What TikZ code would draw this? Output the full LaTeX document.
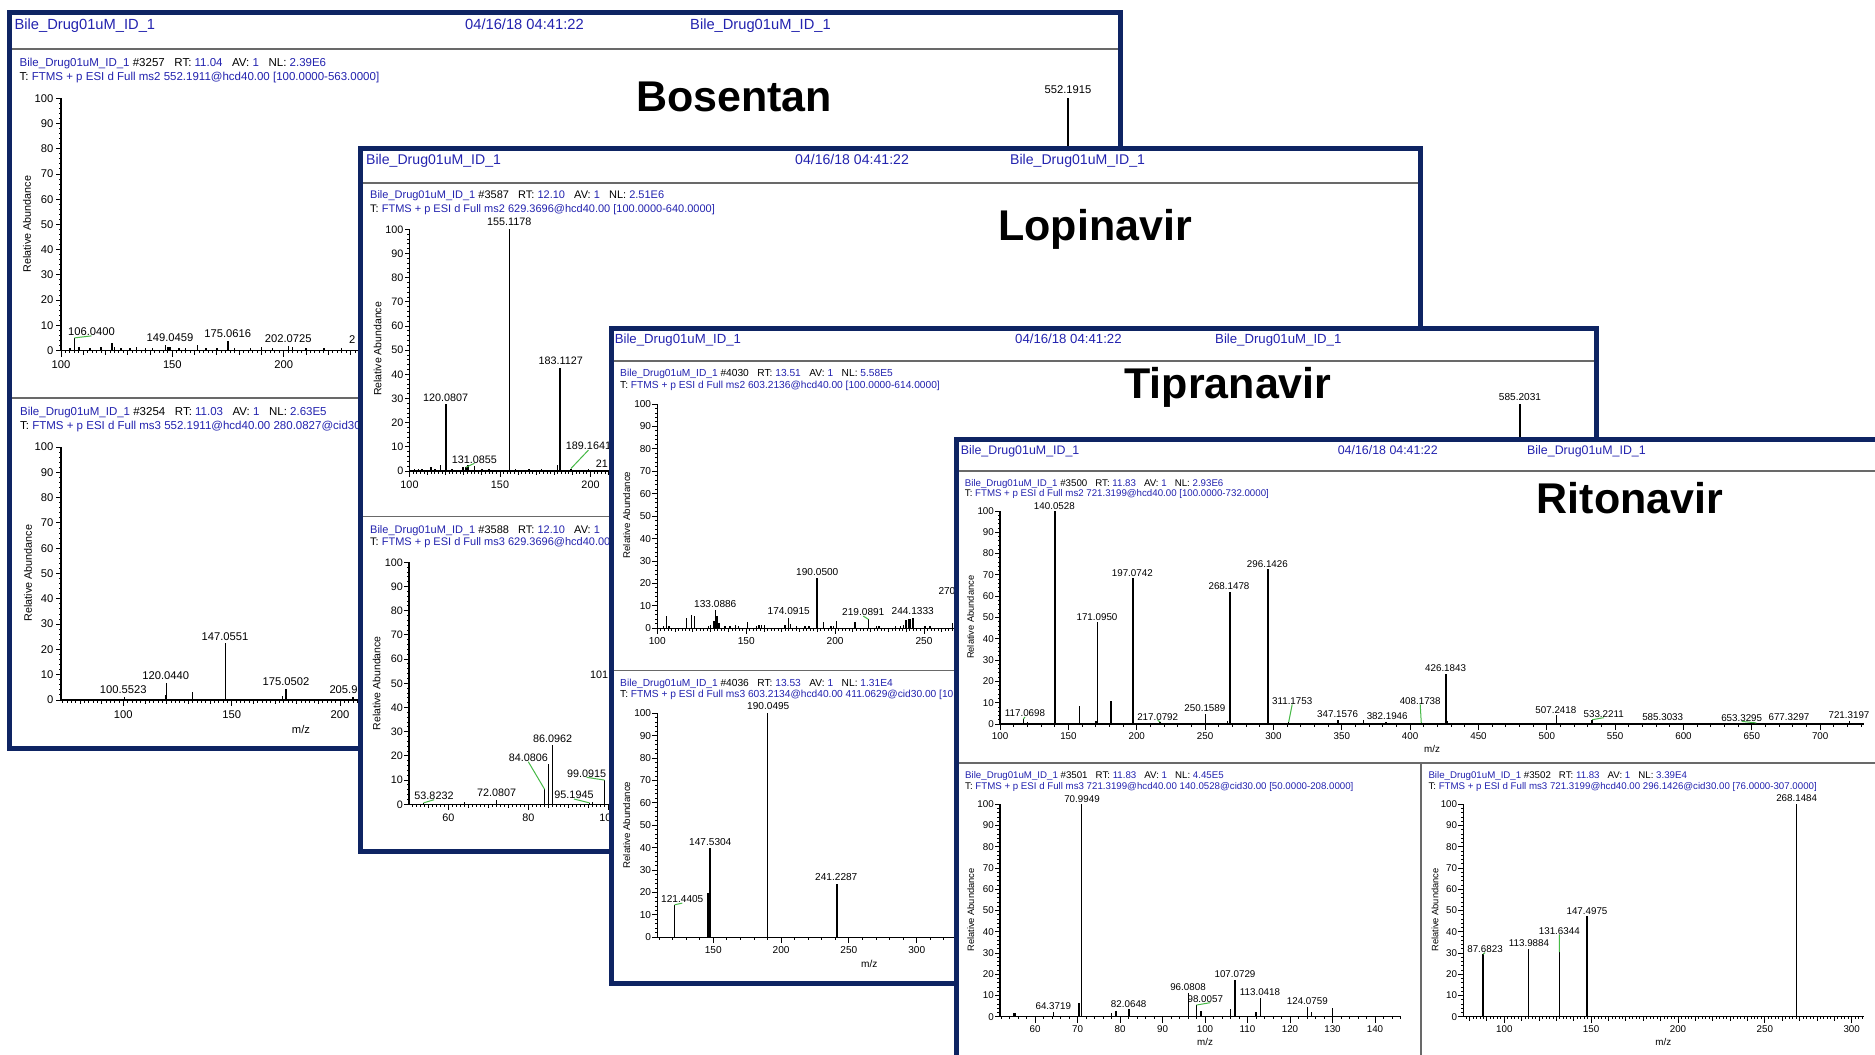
\documentclass[tikz,border=0pt]{standalone}
\usepackage{fontspec}
\setmainfont{Liberation Sans}
\definecolor{navy}{RGB}{14,36,99}
\definecolor{txtblue}{RGB}{35,35,175}
\definecolor{sepgray}{RGB}{105,105,105}
\definecolor{leadgreen}{RGB}{70,185,70}
% first info line of a scan: scan number, retention time, normalisation level
\newcommand\msinfo[3]{{\color{txtblue}Bile\_Drug01uM\_ID\_1} \#{#1}\ \ \ RT: {\color{txtblue}#2}\ \ \ AV: {\color{txtblue}1}\ \ \ NL: {\color{txtblue}#3}}
% second info line: scan filter
\newcommand\mstrig[1]{T: {\color{txtblue}FTMS + p ESI d Full #1}}
% axes of a spectrum: #1 m/z start, #2 m/z end, #3 minor ticks, #4 mid ticks, #5 labelled ticks, #6 name prefix
\newcommand\msaxes[6]{%
  \foreach \p in {2,4,...,98} \draw[tickline] (#1,\p) -- ++(-2.5pt,0pt);
  \foreach \p in {0,10,...,100} {\draw[tickline] (#1,\p) -- ++(-5pt,0pt); \node[ylab] (#6y\p) at (#1,\p) {\p};}
  \foreach \m in {#3} \draw[tickline] (\m,0) -- ++(0pt,-2.5pt);
  \foreach \m in {#4} \draw[tickline] (\m,0) -- ++(0pt,-4pt);
  \foreach \m in {#5} {\draw[tickline] (\m,0) -- ++(0pt,-6pt); \node[xlab] (#6x\m) at (\m,0) {\m};}
  \draw[axisline] (#1,100) -- (#1,0) -- (#2,0);
}
\tikzset{
  frame/.style={draw=navy, line width=5pt, fill=white},
  hsep/.style={draw=sepgray, line width=1.4pt},
  axisline/.style={line width=1.4pt},
  tickline/.style={line width=0.9pt},
  peak/.style={line width=1.5pt},
  leader/.style={draw=leadgreen, line width=1pt},
  lab/.style={inner sep=0pt, font=\fontsize{\lsz}{\lsz}\selectfont},
  ylab/.style={lab, anchor=east, xshift=-\yo},
  xlab/.style={lab, anchor=north, yshift=-\xo},
  rab/.style={inner sep=0pt, rotate=90, font=\fontsize{\rsz}{\rsz}\selectfont},
  hdr/.style={anchor=base west, inner sep=0pt, text=txtblue, font=\fontsize{\hsz}{\hsz}\selectfont},
  info/.style={anchor=base west, inner sep=0pt, font=\fontsize{\isz}{\isz}\selectfont},
  title/.style={anchor=base, inner sep=0pt, font=\fontsize{43}{43}\selectfont\bfseries},
}
\begin{document}
\begin{tikzpicture}[x=1pt,y=-1pt]
\useasboundingbox (0,0) rectangle (1875,1055);
\fill[white] (0,0) rectangle (1875,1055);

%% ---------------- Bosentan ----------------
\def\hsz{14.7}\def\isz{11.5}\def\lsz{11.2}\def\rsz{10.8}\def\xo{10pt}\def\yo{7.5pt}
\draw[frame] (9.5,12.5) rectangle (1120.5,748.5);
\draw[hsep] (12,49) -- (1118,49);
\draw[hsep] (12,398) -- (1118,398);
\node[hdr] (p1hA) at (14.4,29.5) {Bile\_Drug01uM\_ID\_1};
\node[hdr] (p1hB) at (465,29.5) {04/16/18 04:41:22};
\node[hdr] (p1hC) at (690,29.5) {Bile\_Drug01uM\_ID\_1};
\node[title] (p1title) at (734,111) {Bosentan};
\node[info] (p1iA) at (19.5,66.4) {\msinfo{3257}{11.04}{2.39E6}};
\node[info] (p1iB) at (19.5,80.4) {\mstrig{ms2 552.1911@hcd40.00 [100.0000-563.0000]}};
\begin{scope}[shift={(-161.7,350.5)}, x=2.227pt, y=2.522pt]
  \foreach \m/\h in {104/1, 106.04/5, 108/1.2, 113/1, 118/1.5, 122.9/2.9, 124/1.5, 127/1, 131/1,
    134/1.2, 138/1, 141/1, 147/2, 148/1.5, 149.05/1.2, 153/1, 156/1, 161.4/2.3, 165/1, 170/1,
    175.06/3.7, 178/1, 185/1, 190/1.2, 195/1, 202.07/1.6, 204/1.2, 210/1, 218/1, 226/1, 552.19/100}
    \draw[peak] (\m,0) -- (\m,\h);
  \msaxes{100}{563}{102,104,...,562}{110,120,...,560}{100,150,200}{p1u}
  \coordinate (p1k106) at (106.04,5);
\end{scope}
\node[rab] (p1raU) at (27,224) {Relative Abundance};
\node[lab] (p1l106) at (91.5,331.7) {106.0400};
\node[lab] (p1l149) at (170,337.3) {149.0459};
\node[lab] (p1l175) at (227.7,333.3) {175.0616};
\node[lab] (p1l202) at (288.3,338.3) {202.0725};
\node[lab, anchor=west] (p1l2xx) at (349,340) {2};
\node[lab] (p1l552) at (1068,90) {552.1915};
\draw[leader] (p1k106) -- (p1l106.south);

\node[info] (p1iC) at (20,415.1) {\msinfo{3254}{11.03}{2.63E5}};
\node[info] (p1iD) at (20,429.1) {\mstrig{ms3 552.1911@hcd40.00 280.0827@cid30}};
\begin{scope}[shift={(-93.4,700)}, x=2.167pt, y=2.53pt]
  \foreach \m/\h in {100.55/1.2, 119.5/2, 120.04/6.7, 132/3, 147.06/22.5, 173.5/1.5, 175.05/4.3, 205.9/1}
    \draw[peak] (\m,0) -- (\m,\h);
  \msaxes{71.3}{291}{72,74,...,290}{80,90,...,290}{100,150,200}{p1d}
\end{scope}
\node[rab] (p1raD) at (28,573) {Relative Abundance};
\node[lab] (p1l100) at (123.3,689.3) {100.5523};
\node[lab] (p1l120) at (165.7,676) {120.0440};
\node[lab] (p1l147) at (225,636.7) {147.0551};
\node[lab] (p1l175b) at (286,681.7) {175.0502};
\node[lab, anchor=west] (p1l205) at (329.3,689.3) {205.9};
\node[lab] (p1mz) at (301,729) {m/z};

%% ---------------- Lopinavir ----------------
\def\hsz{14.1}\def\isz{11}\def\lsz{10.8}\def\rsz{10.5}\def\xo{9.5pt}\def\yo{6pt}
\draw[frame] (360.5,148.5) rectangle (1420.5,851.5);
\draw[hsep] (363,183) -- (1418,183);
\draw[hsep] (363,516.5) -- (1418,516.5);
\node[hdr] (p2hA) at (366,164.5) {Bile\_Drug01uM\_ID\_1};
\node[hdr] (p2hB) at (795,164.5) {04/16/18 04:41:22};
\node[hdr] (p2hC) at (1010,164.5) {Bile\_Drug01uM\_ID\_1};
\node[title] (p2title) at (1095,240) {Lopinavir};
\node[info] (p2iA) at (370,198.3) {\msinfo{3587}{12.10}{2.51E6}};
\node[info] (p2iB) at (370,212.3) {\mstrig{ms2 629.3696@hcd40.00 [100.0000-640.0000]}};
\begin{scope}[shift={(228.5,471)}, x=1.81pt, y=2.417pt]
  \foreach \m/\h in {102.8/1, 105/1, 107/0.8, 112/1.5, 114/1, 117.2/2.5, 120.08/27.6, 123.4/1,
    129.5/1.5, 131.09/1.5, 132.2/2.5, 135.9/2, 140/0.8, 143.9/1, 155.12/100, 158.5/1, 166/0.8,
    173/1, 181.7/2.5, 183.11/42.5, 189.16/1, 199/1}
    \draw[peak] (\m,0) -- (\m,\h);
  \msaxes{100}{640}{102,104,...,638}{110,120,...,630}{100,150,200}{p2u}
  \coordinate (p2k131) at (131.09,1.5);
  \coordinate (p2k189) at (189.16,1);
\end{scope}
\node[rab] (p2raU) at (377.7,349) {Relative Abundance};
\node[lab] (p2l120) at (445.7,397.3) {120.0807};
\node[lab] (p2l155) at (509.3,222) {155.1178};
\node[lab] (p2l183) at (560.7,361) {183.1127};
\node[lab] (p2l131) at (474.3,459.3) {131.0855};
\node[lab] (p2l189) at (588.5,446) {189.1641};
\node[lab, anchor=west] (p2l21x) at (595.7,463.3) {21};
\draw[leader] (p2k131) -- (p2l131.south);
\draw[leader] (p2k189) -- (p2l189.south);

\node[info] (p2iC) at (370,533) {{\color{txtblue}Bile\_Drug01uM\_ID\_1} \#3588\ \ \ RT: {\color{txtblue}12.10}\ \ \ AV: {\color{txtblue}1}};
\node[info] (p2iD) at (370,545) {\mstrig{ms3 629.3696@hcd40.00}};
\begin{scope}[shift={(208.3,804.3)}, x=4pt, y=2.42pt]
  \foreach \m/\h in {53.82/0.6, 64/1, 72.08/1.8, 84.08/6.2, 85.07/16.7, 86.1/24.4, 95.3/0.6, 96/1, 99.09/10}
    \draw[peak] (\m,0) -- (\m,\h);
  \msaxes{50.2}{200}{51,52,...,199}{55,60,...,195}{60,80,100}{p2d}
  \coordinate (p2k53) at (53.82,0.6);
  \coordinate (p2k84) at (84.08,6.2);
  \coordinate (p2k95) at (95.3,0.6);
  \coordinate (p2k99) at (99.09,10);
\end{scope}
\node[rab] (p2raD) at (376.7,683.3) {Relative Abundance};
\node[lab] (p2l53) at (434,795.7) {53.8232};
\node[lab] (p2l72) at (496.7,792.7) {72.0807};
\node[lab] (p2l84) at (528.3,757.7) {84.0806};
\node[lab] (p2l86) at (552.7,738.7) {86.0962};
\node[lab] (p2l95) at (574,795) {95.1945};
\node[lab] (p2l99) at (586.7,773.3) {99.0915};
\node[lab, anchor=west] (p2l101) at (590,675) {101};
\draw[leader] (p2k53) -- (p2l53.south);
\draw[leader] (p2k84) -- (p2l84.south);
\draw[leader] (p2k95) -- (p2l95.south);
\draw[leader] (p2k99) -- (p2l99.south);

%% ---------------- Tipranavir ----------------
\def\hsz{13.2}\def\isz{10.2}\def\lsz{10.1}\def\rsz{9.7}\def\xo{9pt}\def\yo{6pt}
\draw[frame] (611,328.5) rectangle (1596.5,983.5);
\draw[hsep] (613.5,361) -- (1594,361);
\draw[hsep] (613.5,670.7) -- (1594,670.7);
\node[hdr] (p3hA) at (614.6,343.5) {Bile\_Drug01uM\_ID\_1};
\node[hdr] (p3hB) at (1015,343.5) {04/16/18 04:41:22};
\node[hdr] (p3hC) at (1215,343.5) {Bile\_Drug01uM\_ID\_1};
\node[title] (p3title) at (1228,398) {Tipranavir};
\node[info] (p3iA) at (620,376.2) {\msinfo{4030}{13.51}{5.58E5}};
\node[info] (p3iB) at (620,388) {\mstrig{ms2 603.2136@hcd40.00 [100.0000-614.0000]}};
\begin{scope}[shift={(479.5,628.3)}, x=1.778pt, y=2.243pt]
  \foreach \m/\h in {103.4/1, 105.3/5.5, 106.7/1.2, 116.5/4.5, 119.3/5.8, 120.8/5.5, 128.7/1.2,
    129.8/1.5, 131.9/3.4, 132.6/8.2, 133.7/5.5, 134.7/2.2, 138/1, 140.9/1.2, 144.1/1.5, 145.6/1.2,
    150.8/2.7, 155.9/1, 157.2/1.3, 158.7/1.5, 160.2/1.5, 171.8/1.5, 173.9/4.8, 174.8/1.8, 178.4/1,
    183.1/1, 185.3/1, 189.8/22.3, 193.6/2.7, 197.7/1.2, 199/1.2, 200.7/3.4, 210.8/2.7, 211.6/2.7,
    218.7/4, 223.4/1, 224.7/1, 234.1/1, 236.7/1, 238.6/1.5, 240/3.7, 241.2/4, 242.1/4, 243.8/4.6,
    250.6/1, 253.4/1, 266.1/2.2, 585.2/100}
    \draw[peak] (\m,0) -- (\m,\h);
  \msaxes{100}{614}{102,104,...,612}{110,120,...,610}{100,150,200,250}{p3u}
  \coordinate (p3k219) at (218.7,4);
\end{scope}
\node[rab] (p3raU) at (626.7,515) {Relative Abundance};
\node[lab] (p3l133) at (715.3,604.3) {133.0886};
\node[lab] (p3l174) at (788.7,611) {174.0915};
\node[lab] (p3l190) at (817.3,571.7) {190.0500};
\node[lab] (p3l219) at (863.3,612.3) {219.0891};
\node[lab] (p3l244) at (912.7,611) {244.1333};
\node[lab, anchor=west] (p3l270) at (938.3,590.7) {270};
\node[lab] (p3l585) at (1520,397) {585.2031};
\draw[leader] (p3k219) -- (p3l219.south);

\node[info] (p3iC) at (620,686) {\msinfo{4036}{13.53}{1.31E4}};
\node[info] (p3iD) at (620,697.7) {\mstrig{ms3 603.2134@hcd40.00 411.0629@cid30.00 [10}};
\begin{scope}[shift={(509.9,937.3)}, x=1.356pt, y=2.24pt]
  \foreach \m/\h in {121.44/14.5, 146.1/20, 147.53/39.7, 190.05/100, 241.23/24}
    \draw[peak] (\m,0) -- (\m,\h);
  \msaxes{108.7}{422}{110,120,...,420}{150,200,250,300}{150,200,250,300}{p3d}
  \coordinate (p3k121) at (121.44,14.5);
\end{scope}
\node[rab] (p3raD) at (626.7,825) {Relative Abundance};
\node[lab] (p3l121) at (682.3,899.3) {121.4405};
\node[lab] (p3l147) at (710.3,842.3) {147.5304};
\node[lab] (p3l190b) at (768.3,705.7) {190.0495};
\node[lab] (p3l241) at (836.3,876.7) {241.2287};
\node[lab] (p3mz) at (869.3,964) {m/z};
\draw[leader] (p3k121) -- (p3l121.south);

%% ---------------- Ritonavir ----------------
\def\hsz{12.4}\def\isz{9.7}\def\lsz{9.8}\def\rsz{9.3}\def\xo{8.7pt}\def\yo{6pt}
\draw[frame] (956.5,439.5) rectangle (1910,1090);
\draw[hsep] (959,471) -- (1907,471);
\draw[hsep] (959,763) -- (1907,763);
\draw[hsep] (1421,763) -- (1421,1087);
\node[hdr] (p4hA) at (960.6,454.7) {Bile\_Drug01uM\_ID\_1};
\node[hdr] (p4hB) at (1337.6,454.7) {04/16/18 04:41:22};
\node[hdr] (p4hC) at (1527,454.7) {Bile\_Drug01uM\_ID\_1};
\node[title] (p4title) at (1630,513) {Ritonavir};
\node[info] (p4iA) at (964.7,486) {\msinfo{3500}{11.83}{2.93E6}};
\node[info] (p4iB) at (964.7,496.8) {\mstrig{ms2 721.3199@hcd40.00 [100.0000-732.0000]}};
\begin{scope}[shift={(863.4,724)}, x=1.3668pt, y=2.13pt]
  \foreach \m/\h in {117.07/2.3, 120/1, 130/0.7, 140.05/100, 158/8.6, 170/1.2, 171.1/47.8, 181/10.8,
    197.07/68.4, 217.08/1, 250.16/4.8, 266.5/1.2, 268.15/62, 296.14/72.6, 311.18/1, 347.16/2,
    366/2, 382.19/1, 408.17/0.5, 426.18/23.5, 427.3/1.5, 488/0.7, 507.24/4.2, 533.22/2,
    585.3/0.5, 653.33/0.5, 677.33/0.7, 721.32/1.5}
    \draw[peak] (\m,0) -- (\m,\h);
  \msaxes{100}{732}{110,120,...,730}{100,150,...,700}{100,150,...,700}{p4u}
  \coordinate (p4k117) at (117.07,2.3);
  \coordinate (p4k217) at (217.08,1);
  \coordinate (p4k311) at (311.18,1);
  \coordinate (p4k408) at (408.17,0.5);
  \coordinate (p4k533) at (533.22,2);
  \coordinate (p4k653) at (653.33,0.5);
\end{scope}
\node[rab] (p4raU) at (970.6,617.3) {Relative Abundance};
\node[lab] (p4l117) at (1025,713.3) {117.0698};
\node[lab] (p4l140) at (1054.4,506) {140.0528};
\node[lab] (p4l171) at (1097,617) {171.0950};
\node[lab] (p4l197) at (1132.3,572.7) {197.0742};
\node[lab] (p4l217) at (1157.7,716.7) {217.0792};
\node[lab] (p4l250) at (1204.9,707.7) {250.1589};
\node[lab] (p4l268) at (1229,585.7) {268.1478};
\node[lab] (p4l296) at (1267.4,564) {296.1426};
\node[lab] (p4l311) at (1292.2,700.7) {311.1753};
\node[lab] (p4l347) at (1337.6,714) {347.1576};
\node[lab] (p4l382) at (1387.2,715.7) {382.1946};
\node[lab] (p4l408) at (1420.2,700.7) {408.1738};
\node[lab] (p4l426) at (1445.6,667.7) {426.1843};
\node[lab] (p4l507) at (1555.9,710) {507.2418};
\node[lab] (p4l533) at (1603.7,714) {533.2211};
\node[lab] (p4l585) at (1662.7,716.7) {585.3033};
\node[lab] (p4l653) at (1741.7,717.7) {653.3295};
\node[lab] (p4l677) at (1789,716.7) {677.3297};
\node[lab] (p4l721) at (1849,715) {721.3197};
\node[lab] (p4mzU) at (1432,749) {m/z};
\draw[leader] (p4k117) -- (p4l117.south);
\draw[leader] (p4k217) -- (p4l217.south);
\draw[leader] (p4k311) -- (p4l311.south);
\draw[leader] (p4k408) -- (p4l408.south);
\draw[leader] (p4k533) -- (p4l533.south);
\draw[leader] (p4k653) -- (p4l653.south);

% lower left: ms3 of 140.0528
\node[info] (p4iC) at (965,778.5) {\msinfo{3501}{11.83}{4.45E5}};
\node[info] (p4iD) at (965,789.5) {\mstrig{ms3 721.3199@hcd40.00 140.0528@cid30.00 [50.0000-208.0000]}};
\begin{scope}[shift={(780,1016.7)}, x=4.25pt, y=2.124pt]
  \foreach \m/\h in {55/1.6, 55.3/1.6, 64.37/2, 70.3/6.3, 70.99/100, 78/1.6, 79/2.7, 82.06/3.5,
    96.08/11, 98/5.5, 99/2.8, 106/3.5, 107.07/17.3, 112/2.3, 113.04/9, 124.08/4.7, 125/2, 130/4}
    \draw[peak] (\m,0) -- (\m,\h);
  \msaxes{51.76}{146.05}{52,54,...,146}{60,70,...,140}{60,70,...,140}{p4l}
  \coordinate (p4k98) at (98,5.5);
\end{scope}
\node[rab] (p4raL) at (970.7,910) {Relative Abundance};
\node[lab] (p4l70) at (1082,798.7) {70.9949};
\node[lab] (p4l64) at (1053.3,1006) {64.3719};
\node[lab] (p4l82) at (1128.7,1004) {82.0648};
\node[lab] (p4l96) at (1188,987) {96.0808};
\node[lab] (p4l98) at (1205.3,999) {98.0057};
\node[lab] (p4l107) at (1235,973.7) {107.0729};
\node[lab] (p4l113) at (1260,992) {113.0418};
\node[lab] (p4l124) at (1307.3,1000.7) {124.0759};
\node[lab] (p4mzL) at (1205,1041.7) {m/z};
\draw[leader] (p4k98) -- ([xshift=5pt]p4l98.south);

% lower right: ms3 of 296.1426
\node[info] (p4iE) at (1428.3,778.5) {\msinfo{3502}{11.83}{3.39E4}};
\node[info] (p4iF) at (1428.3,789.5) {\mstrig{ms3 721.3199@hcd40.00 296.1426@cid30.00 [76.0000-307.0000]}};
\begin{scope}[shift={(1330.6,1016.7)}, x=1.737pt, y=2.124pt]
  \foreach \m/\h in {87.45/29.4, 87.9/29.4, 113.99/31.9, 131.63/30.4, 147.5/47.4, 268.15/100}
    \draw[peak] (\m,0) -- (\m,\h);
  \msaxes{76.4}{307.3}{78,80,...,306}{80,90,...,300}{100,150,...,300}{p4r}
  \coordinate (p4k87) at (87.68,29.4);
  \coordinate (p4k131) at (131.63,30.4);
\end{scope}
\node[rab] (p4raR) at (1435,910) {Relative Abundance};
\node[lab] (p4r87) at (1485,949) {87.6823};
\node[lab] (p4r113) at (1529,943) {113.9884};
\node[lab] (p4r131) at (1559.3,930.7) {131.6344};
\node[lab] (p4r147) at (1587,910.7) {147.4975};
\node[lab] (p4r268) at (1796.7,797.7) {268.1484};
\node[lab] (p4mzR) at (1663.3,1041.7) {m/z};
\draw[leader] (p4k87) -- (p4r87.south);
\draw[leader] (p4k131) -- (p4r131.south);
\end{tikzpicture}
\end{document}
